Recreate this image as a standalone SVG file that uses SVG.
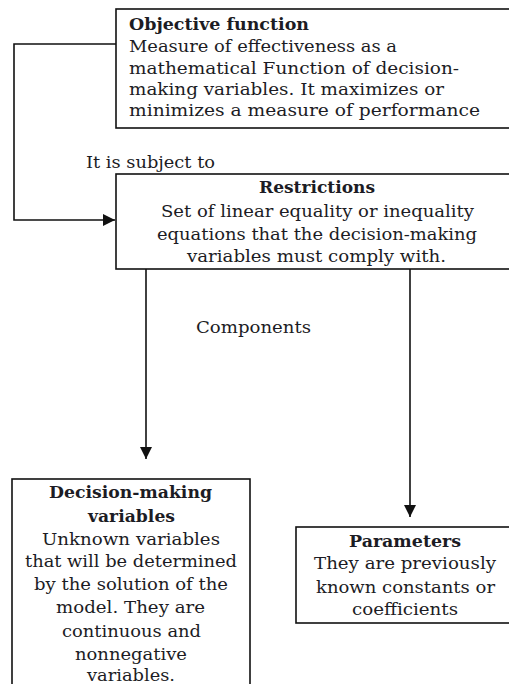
<svg xmlns="http://www.w3.org/2000/svg" width="509" height="684" viewBox="0 0 509 684">
<style>
  .box{fill:#fff;stroke:#111;stroke-width:1.6}
  .t{font-family:"DejaVu Serif","Liberation Serif",serif;font-size:16px;fill:#1c1c24}
  .b{font-weight:bold}
  .c{text-anchor:middle}
  .ln{fill:none;stroke:#111;stroke-width:1.6}
</style>
<defs>
  <marker id="ah" markerUnits="userSpaceOnUse" markerWidth="12" markerHeight="12" viewBox="0 0 12 12" refX="12" refY="6" orient="auto">
    <path d="M0,0 L12,6 L0,12 z" fill="#111"/>
  </marker>
</defs>
<rect width="509" height="684" fill="#fff"/>
<g id="connectors">
  <polyline class="ln" points="116,44 14,44 14,220 115,220" marker-end="url(#ah)"/>
  <line class="ln" x1="146" y1="269" x2="146" y2="459" marker-end="url(#ah)"/>
  <line class="ln" x1="410" y1="269" x2="410" y2="517" marker-end="url(#ah)"/>
  <text class="t" x="86" y="168" textLength="129" lengthAdjust="spacingAndGlyphs">It is subject to</text>
  <text class="t" x="196" y="333" textLength="115" lengthAdjust="spacingAndGlyphs">Components</text>
</g>
<g id="objective">
  <rect class="box" x="116" y="9" width="410" height="119"/>
  <text class="t b" x="129" y="30" textLength="180" lengthAdjust="spacingAndGlyphs">Objective function</text>
  <text class="t" x="129" y="52" textLength="268" lengthAdjust="spacingAndGlyphs">Measure of effectiveness as a</text>
  <text class="t" x="129" y="74" textLength="330" lengthAdjust="spacingAndGlyphs">mathematical  Function of decision-</text>
  <text class="t" x="129" y="95" textLength="315" lengthAdjust="spacingAndGlyphs">making variables. It  maximizes or</text>
  <text class="t" x="129" y="116" textLength="351" lengthAdjust="spacingAndGlyphs">minimizes a measure of   performance</text>
</g>
<g id="restrictions">
  <rect class="box" x="116" y="174" width="410" height="95"/>
  <text class="t b c" x="317" y="193" textLength="116" lengthAdjust="spacingAndGlyphs">Restrictions</text>
  <text class="t c" x="317.5" y="217" textLength="313" lengthAdjust="spacingAndGlyphs">Set of linear equality or inequality</text>
  <text class="t c" x="317" y="240" textLength="320" lengthAdjust="spacingAndGlyphs">equations that the decision-making</text>
  <text class="t c" x="316.5" y="262" textLength="259" lengthAdjust="spacingAndGlyphs">variables must comply with.</text>
</g>
<g id="decision">
  <rect class="box" x="12" y="479" width="238" height="230"/>
  <text class="t b c" x="130.5" y="498" textLength="163" lengthAdjust="spacingAndGlyphs">Decision-making</text>
  <text class="t b c" x="131.5" y="522" textLength="87" lengthAdjust="spacingAndGlyphs">variables</text>
  <text class="t c" x="131" y="545" textLength="178" lengthAdjust="spacingAndGlyphs">Unknown variables</text>
  <text class="t c" x="131" y="567" textLength="212" lengthAdjust="spacingAndGlyphs">that will be determined</text>
  <text class="t c" x="131" y="590" textLength="194" lengthAdjust="spacingAndGlyphs">by the solution of the</text>
  <text class="t c" x="130.5" y="613" textLength="149" lengthAdjust="spacingAndGlyphs">model. They are</text>
  <text class="t c" x="131.5" y="637" textLength="139" lengthAdjust="spacingAndGlyphs">continuous and</text>
  <text class="t c" x="131" y="660" textLength="112" lengthAdjust="spacingAndGlyphs">nonnegative</text>
  <text class="t c" x="131" y="681" textLength="88" lengthAdjust="spacingAndGlyphs">variables.</text>
</g>
<g id="parameters">
  <rect class="box" x="296" y="527" width="230" height="96"/>
  <text class="t b c" x="405" y="547" textLength="112" lengthAdjust="spacingAndGlyphs">Parameters</text>
  <text class="t c" x="405" y="569" textLength="182" lengthAdjust="spacingAndGlyphs">They are previously</text>
  <text class="t c" x="405.5" y="593" textLength="179" lengthAdjust="spacingAndGlyphs">known constants or</text>
  <text class="t c" x="405" y="615" textLength="106" lengthAdjust="spacingAndGlyphs">coefficients</text>
</g>
</svg>
